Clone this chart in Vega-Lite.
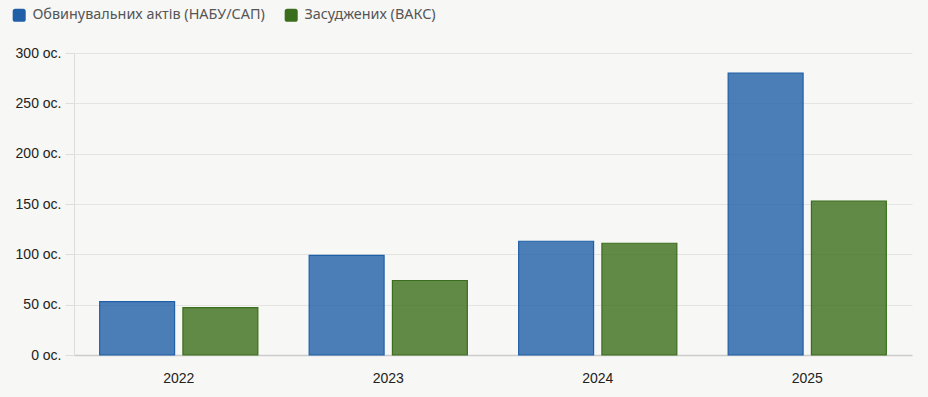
{
  "$schema": "https://vega.github.io/schema/vega-lite/v6.json",
  "width": 838,
  "height": 302,
  "autosize": {"type": "none"},
  "padding": {"left": 74, "top": 53, "right": 16, "bottom": 42},
  "background": "#f7f7f5",
  "data": {
    "values": [
      {"year": "2022", "series": "Обвинувальних актів (НАБУ/САП)", "value": 53},
      {"year": "2022", "series": "Засуджених (ВАКС)", "value": 47},
      {"year": "2023", "series": "Обвинувальних актів (НАБУ/САП)", "value": 99},
      {"year": "2023", "series": "Засуджених (ВАКС)", "value": 74},
      {"year": "2024", "series": "Обвинувальних актів (НАБУ/САП)", "value": 113},
      {"year": "2024", "series": "Засуджених (ВАКС)", "value": 111},
      {"year": "2025", "series": "Обвинувальних актів (НАБУ/САП)", "value": 280},
      {"year": "2025", "series": "Засуджених (ВАКС)", "value": 153}
    ]
  },
  "mark": {"type": "bar", "fillOpacity": 0.8, "strokeWidth": 1.2},
  "encoding": {
    "x": {
      "field": "year", "type": "nominal",
      "scale": {"paddingInner": 0.245, "paddingOuter": 0.1225},
      "axis": {"title": null, "labelAngle": 0, "ticks": false, "labelPadding": 16, "labelFontSize": 14, "labelFont": "Liberation Sans", "labelColor": "#222", "domainColor": "#cccccc", "domainWidth": 1.5}
    },
    "xOffset": {
      "field": "series", "type": "nominal",
      "sort": ["Обвинувальних актів (НАБУ/САП)", "Засуджених (ВАКС)"],
      "scale": {"paddingInner": 0.1}
    },
    "y": {
      "field": "value", "type": "quantitative",
      "scale": {"domain": [0, 300]},
      "axis": {"title": null, "values": [0, 50, 100, 150, 200, 250, 300], "labelExpr": "datum.value + ' ос.'", "labelFontSize": 14, "labelFont": "Liberation Sans", "labelColor": "#222", "tickSize": 9, "tickColor": "#dddddd", "labelPadding": 4, "domainColor": "#dddddd", "gridColor": "#e4e4e2"}
    },
    "fill": {
      "field": "series", "type": "nominal",
      "sort": ["Обвинувальних актів (НАБУ/САП)", "Засуджених (ВАКС)"],
      "scale": {"domain": ["Обвинувальних актів (НАБУ/САП)", "Засуджених (ВАКС)"], "range": ["#1f5fa8", "#3b6e1c"]},
      "legend": {"title": null, "orient": "none", "legendX": -62, "legendY": -45, "direction": "horizontal", "symbolType": "M-1,-0.6 Q-1,-1 -0.6,-1 L0.6,-1 Q1,-1 1,-0.6 L1,0.6 Q1,1 0.6,1 L-0.6,1 Q-1,1 -1,0.6 Z", "symbolSize": 170, "symbolOpacity": 1, "symbolStrokeWidth": 0, "labelFontSize": 14.4, "labelFont": "Noto Sans", "labelColor": "#555", "labelLimit": 0, "columnPadding": 19, "labelOffset": 6}
    },
    "stroke": {
      "field": "series", "type": "nominal",
      "scale": {"domain": ["Обвинувальних актів (НАБУ/САП)", "Засуджених (ВАКС)"], "range": ["#1f5fa8", "#3b6e1c"]},
      "legend": null
    }
  },
  "config": {"view": {"stroke": null}}
}
